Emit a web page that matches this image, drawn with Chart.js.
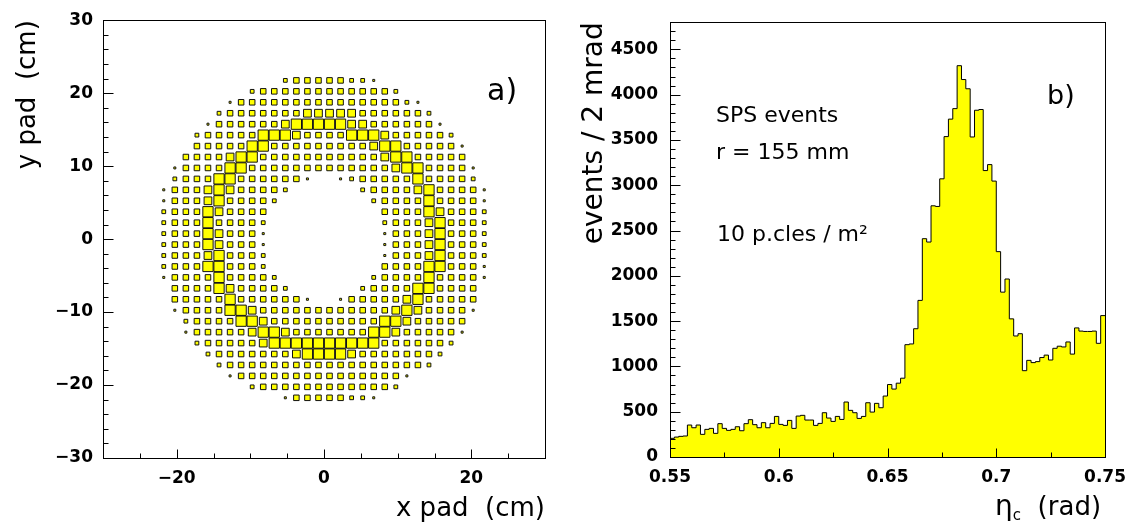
<!DOCTYPE html>
<html>
<head>
<meta charset="utf-8">
<script src="https://cdn.jsdelivr.net/npm/chart.js@4/dist/chart.umd.min.js"></script>
<style>
  html, body { margin: 0; padding: 0; background: #fff; }
  #wrap { position: relative; width: 1136px; height: 525px; }
  canvas { position: absolute; top: 0; }
  #padMap { left: 0; }
  #etaHist { left: 568px; }
</style>
</head>
<body>
<div id="wrap">
  <canvas id="padMap" width="568" height="525"></canvas>
  <canvas id="etaHist" width="568" height="525"></canvas>
</div>
<script>
// ---- panel a: pad map ----
// pad centres in cm (same grid for x and y, pitch 1.5 cm)
const padCentres = [-21.75, -20.25, -18.75, -17.25, -15.75, -14.25, -12.75, -11.25, -9.75, -8.25,
  -6.75, -5.25, -3.75, -2.25, -0.75, 0.75, 2.25, 3.75, 5.25, 6.75,
  8.25, 9.75, 11.25, 12.75, 14.25, 15.75, 17.25, 18.75, 20.25, 21.75];
const padPitch = 1.5;

// hit level per pad, top row (y = +21.75) first, x from -21.75 to +21.75; 0 = no hits
const padRows = [
  "00000 00000 02333 33221 00000 00000",
  "00000 00023 33333 33333 32000 00000",
  "00000 01333 33333 33333 33210 00000",
  "00000 23333 33344 44433 33332 00000",
  "00001 33333 34555 55443 33333 10000",
  "00023 33335 55433 33555 43333 32000",
  "00033 33355 33333 33334 55333 33100",
  "00333 34553 33333 33333 45533 33300",
  "01333 35533 33333 33333 34553 33310",
  "02333 55333 33310 01233 33353 33320",
  "13334 54333 32000 00023 33345 33331",
  "13334 53333 20000 00002 33335 33331",
  "23335 43333 00000 00000 33335 43332",
  "23335 33332 00000 00000 23334 53332",
  "23335 43331 00000 00000 13334 53332",
  "23335 43331 00000 00000 13334 53332",
  "23334 53332 00000 00000 13334 53332",
  "23335 53332 00000 00000 33335 53331",
  "13333 53333 20000 00002 33335 33331",
  "03333 54333 32000 00023 33355 33330",
  "03333 35333 33310 01333 33453 33330",
  "01333 35543 33333 33333 34543 33310",
  "00233 33554 33333 33333 55433 33300",
  "00133 33345 54333 33335 54333 33100",
  "00023 33334 55555 55555 33333 32000",
  "00002 33333 33455 55433 33333 20000",
  "00000 23333 33333 33333 33332 00000",
  "00000 01333 33333 33333 33100 00000",
  "00000 00023 33333 33333 32000 00000",
  "00000 00000 01333 33221 00000 00000"
];
const boxSide = [0, 0.18, 0.34, 0.5, 0.7, 0.93]; // box side as fraction of the pad

const xTicksA = [-20, 0, 20];
const yTicksA = [-30, -20, -10, 0, 10, 20, 30];

// ---- panel b: eta_c histogram, 2 mrad bins from 0.55 rad ----
const etaStart = 0.55;
const etaBin = 0.002;
const eventsPerBin = [
  206, 220, 228, 232, 353, 323, 353, 250, 305, 316,
  261, 368, 316, 294, 305, 334, 290, 368, 412, 357,
  323, 379, 323, 371, 448, 360, 349, 404, 316, 452,
  460, 408, 408, 349, 371, 489, 430, 393, 448, 415,
  607, 515, 489, 426, 448, 599, 496, 592, 544, 673,
  800, 750, 815, 870, 1240, 1248, 1416, 1729, 2410, 2373,
  2773, 2766, 3071, 3537, 3730, 3846, 4320, 4167, 4065, 3533,
  3828, 3836, 3162, 3228, 3046, 2267, 1820, 1965, 1525, 1336,
  1361, 953, 1067, 1042, 1053, 1098, 1125, 1071, 1200, 1223,
  1215, 1270, 1136, 1425, 1390, 1386, 1386, 1390, 1255, 1561
];
const xTicksB = [0.55, 0.6, 0.65, 0.7, 0.75];
const yTicksB = [0, 500, 1000, 1500, 2000, 2500, 3000, 3500, 4000, 4500];

Chart.defaults.font.family = "'DejaVu Sans', sans-serif";
Chart.defaults.color = '#000';
Chart.defaults.animation = false;

const fmtTick = v => (v < 0 ? '\u2212' + Math.abs(v) : String(v));
const tickFont = {size: 17, weight: 'bold'};

// frame + inward tick marks (PAW style)
const frameTicks = {
  id: 'frameTicks',
  afterDraw(chart, args, opts) {
    const {ctx, chartArea: a, scales} = chart;
    const L = Math.round(a.left) + 0.5, R = Math.round(a.right) + 0.5;
    const T = Math.round(a.top) + 0.5, B = Math.round(a.bottom) + 0.5;
    ctx.save();
    ctx.strokeStyle = '#000';
    ctx.lineWidth = 1;
    ctx.beginPath();
    for (let i = 0; i < opts.x.n; i++) {
      const px = Math.round(scales.x.getPixelForValue(opts.x.from + i * opts.x.step)) + 0.5;
      const len = i % opts.x.every === opts.x.offset ? 9 : 5;
      ctx.moveTo(px, B);
      ctx.lineTo(px, B - len);
    }
    for (let i = 0; i < opts.y.n; i++) {
      const py = Math.round(scales.y.getPixelForValue(opts.y.from + i * opts.y.step)) + 0.5;
      const len = i % opts.y.every === 0 ? 10 : 5;
      ctx.moveTo(L, py);
      ctx.lineTo(L + len, py);
    }
    ctx.stroke();
    ctx.strokeRect(L, T, R - L, B - T);
    ctx.restore();
  }
};

// free text inside / around the frame
const annotate = {
  id: 'annotate',
  afterDraw(chart, args, opts) {
    const {ctx, chartArea: a} = chart;
    ctx.save();
    ctx.fillStyle = '#000';
    ctx.textBaseline = 'alphabetic';
    ctx.textAlign = 'left';
    opts.items.forEach(item => {
      let w = 0;
      item.runs.forEach(r => {
        ctx.font = r.size + "px 'DejaVu Sans'";
        w += ctx.measureText(r.t).width;
      });
      let x = item.right ? a.right - item.dx - w : a.left + item.dx;
      const y = item.fromBottom ? chart.height - item.dy : a.top + item.dy;
      item.runs.forEach(r => {
        ctx.font = r.size + "px 'DejaVu Sans'";
        ctx.fillText(r.t, x, y + (r.dy || 0));
        x += ctx.measureText(r.t).width;
      });
    });
    ctx.restore();
  }
};

function fixedAxis(ticksList, extra) {
  return Object.assign({
    type: 'linear',
    grid: {display: false, drawTicks: false},
    border: {display: false},
    afterBuildTicks: s => { s.ticks = ticksList.map(v => ({value: v})); }
  }, extra);
}

// boxes
const boxes = [];
padRows.forEach((row, j) => {
  const codes = row.replace(/ /g, '');
  for (let i = 0; i < codes.length; i++) {
    const level = Number(codes[i]);
    if (level > 0) boxes.push({x: padCentres[i], y: padCentres[padCentres.length - 1 - j], level});
  }
});

new Chart(document.getElementById('padMap'), {
  type: 'scatter',
  data: {
    datasets: [{
      data: boxes,
      pointStyle: 'rect',
      backgroundColor: '#ffff00',
      borderColor: '#111',
      borderWidth: 1,
      pointRadius: ctx => {
        const xs = ctx.chart.scales.x;
        const pad = Math.abs(xs.getPixelForValue(padPitch) - xs.getPixelForValue(0));
        return boxSide[ctx.raw.level] * pad / Math.SQRT2;
      },
      pointHoverRadius: 0
    }]
  },
  options: {
    responsive: false,
    events: [],
    layout: {padding: {top: 14, right: 23, bottom: 0, left: 0}},
    plugins: {
      legend: {display: false},
      tooltip: {enabled: false},
      frameTicks: {
        x: {from: -25, step: 5, n: 11, every: 4, offset: 1},
        y: {from: -30, step: 2, n: 31, every: 5}
      },
      annotate: {items: [{dx: 384, dy: 80, runs: [{t: 'a)', size: 30}]}]}
    },
    scales: {
      x: fixedAxis(xTicksA, {
        min: -30, max: 30, position: 'bottom',
        afterFit: s => { s.height = 67; },
        ticks: {font: tickFont, padding: 10, maxRotation: 0, autoSkip: false, callback: fmtTick},
        title: {display: true, text: 'x pad  (cm)', align: 'end', font: {size: 26}, padding: {top: 0, bottom: 0}}
      }),
      y: fixedAxis(yTicksA, {
        min: -30, max: 30, position: 'left',
        afterFit: s => { s.width = 103; },
        ticks: {font: tickFont, padding: 10, autoSkip: false, callback: fmtTick},
        title: {display: true, text: 'y pad  (cm)', align: 'end', font: {size: 26}, padding: {top: 13, bottom: 0}}
      })
    }
  },
  plugins: [frameTicks, annotate]
});

// histogram as stepped line: one point per bin low edge, plus the upper edge
const histPoints = eventsPerBin.map((v, i) => ({x: etaStart + i * etaBin, y: v}));
histPoints.push({x: etaStart + eventsPerBin.length * etaBin, y: eventsPerBin[eventsPerBin.length - 1]});

new Chart(document.getElementById('etaHist'), {
  type: 'line',
  data: {
    datasets: [{
      data: histPoints,
      stepped: true,
      fill: 'origin',
      backgroundColor: '#ffff00',
      borderColor: '#000',
      borderWidth: 1,
      pointRadius: 0
    }]
  },
  options: {
    responsive: false,
    events: [],
    layout: {padding: {top: 15, right: 23, bottom: 0, left: 0}},
    plugins: {
      legend: {display: false},
      tooltip: {enabled: false},
      frameTicks: {
        x: {from: 0.55, step: 0.025, n: 9, every: 2, offset: 0},
        y: {from: 0, step: 100, n: 48, every: 5}
      },
      annotate: {items: [
        {dx: 46, dy: 100, runs: [{t: 'SPS events', size: 22}]},
        {dx: 46, dy: 137, runs: [{t: 'r = 155 mm', size: 22}]},
        {dx: 47, dy: 219, runs: [{t: '10 p.cles / m\u00b2', size: 22}]},
        {dx: 377, dy: 82, runs: [{t: 'b)', size: 27}]},
        {right: true, dx: 4, fromBottom: true, dy: 10, runs: [
          {t: '\u03b7', size: 28}, {t: 'c', size: 15, dy: 5}, {t: '  (rad)', size: 26}
        ]}
      ]}
    },
    scales: {
      x: fixedAxis(xTicksB, {
        min: 0.55, max: 0.75, position: 'bottom',
        afterFit: s => { s.height = 68; },
        ticks: {font: tickFont, padding: 10, maxRotation: 0, autoSkip: false, callback: fmtTick}
      }),
      y: fixedAxis(yTicksB, {
        min: 0, max: 4800, position: 'left',
        afterFit: s => { s.width = 102; },
        ticks: {font: tickFont, padding: 12, autoSkip: false, callback: fmtTick},
        title: {display: true, text: 'events / 2 mrad', align: 'end', font: {size: 28}, padding: {top: 10, bottom: 0}}
      })
    }
  },
  plugins: [frameTicks, annotate]
});
</script>
</body>
</html>
